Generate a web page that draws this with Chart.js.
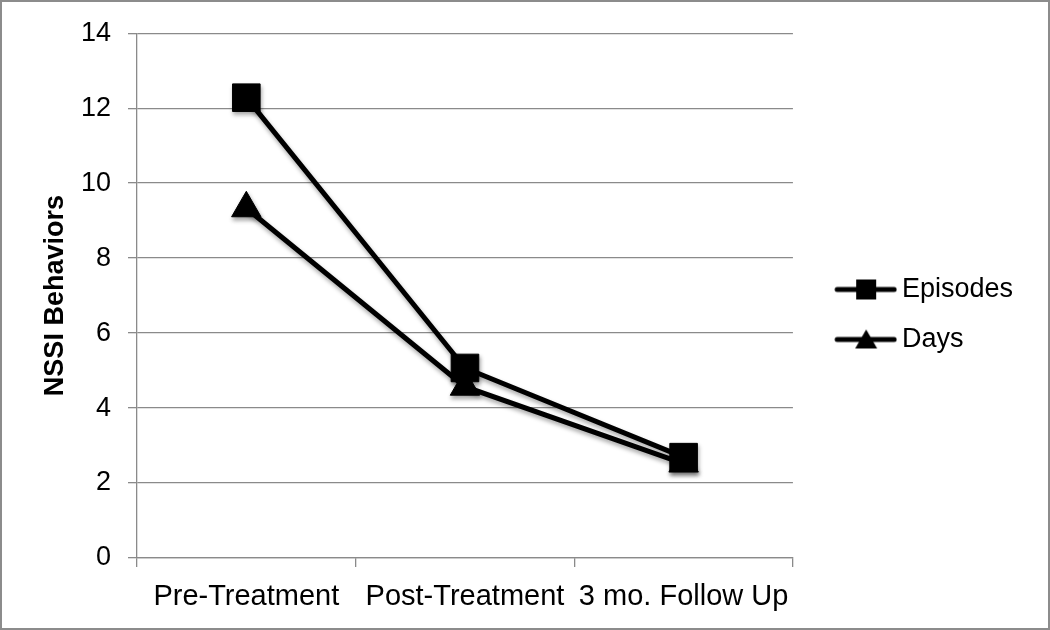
<!DOCTYPE html>
<html>
<head>
<meta charset="utf-8">
<script src="https://cdn.jsdelivr.net/npm/chart.js@4/dist/chart.umd.min.js"></script>
<style>
html,body{margin:0;padding:0;background:#fff;}
#wrap{width:1050px;height:630px;position:relative;}
</style>
</head>
<body>
<div id="wrap"><canvas id="c" width="1050" height="630"></canvas></div>
<script>
const categories = ['Pre-Treatment', 'Post-Treatment', '3 mo. Follow Up'];
const episodes = [12.28, 5.07, 2.69];
const days = [9.33, 4.57, 2.52];
const seriesNames = ['Episodes', 'Days'];
const yTicks = [0, 2, 4, 6, 8, 10, 12, 14];

const FONT = '"Liberation Sans", Arial, sans-serif';
const GRID = '#8a8a8a';

function legendIcon(kind) {
  const c = document.createElement('canvas');
  c.width = 90; c.height = 24;
  const g = c.getContext('2d');
  g.strokeStyle = '#000'; g.lineWidth = 5; g.lineCap = 'round';
  g.beginPath(); g.moveTo(30, 12); g.lineTo(87, 12); g.stroke();
  g.fillStyle = '#000';
  if (kind === 'rect') {
    g.fillRect(49, 2, 20, 20);
  } else {
    g.beginPath(); g.moveTo(59, 2); g.lineTo(70, 21); g.lineTo(48, 21); g.closePath(); g.fill();
  }
  return c;
}
const icons = { rect: legendIcon('rect'), triangle: legendIcon('triangle') };

const framePlugin = {
  id: 'frame',
  beforeDraw(chart) {
    const ctx = chart.ctx;
    ctx.save();
    ctx.fillStyle = '#fff';
    ctx.fillRect(0, 0, chart.width, chart.height);
    ctx.restore();
  },
  beforeDatasetsDraw(chart) {
    const ctx = chart.ctx;
    ctx.save();
    ctx.shadowColor = 'rgba(0,0,0,0.35)';
    ctx.shadowBlur = 4;
    ctx.shadowOffsetX = 1;
    ctx.shadowOffsetY = 3;
  },
  afterDatasetsDraw(chart) {
    chart.ctx.restore();
  },
  afterDraw(chart) {
    const ctx = chart.ctx;
    ctx.save();
    ctx.strokeStyle = '#8c8c8c';
    ctx.lineWidth = 2;
    ctx.strokeRect(1, 1, chart.width - 2, chart.height - 2);
    ctx.restore();
  }
};

new Chart(document.getElementById('c'), {
  type: 'line',
  data: {
    labels: categories,
    datasets: [
      {
        label: seriesNames[0],
        data: episodes,
        borderColor: '#000',
        backgroundColor: '#000',
        borderWidth: 5,
        pointStyle: 'rect',
        pointRadius: 19.5,
        pointBorderWidth: 1,
        pointBackgroundColor: '#000',
        pointBorderColor: '#000',
        tension: 0
      },
      {
        label: seriesNames[1],
        data: days,
        borderColor: '#000',
        backgroundColor: '#000',
        borderWidth: 5,
        pointStyle: 'triangle',
        pointRadius: 17,
        pointBorderWidth: 1,
        pointBackgroundColor: '#000',
        pointBorderColor: '#000',
        tension: 0
      }
    ]
  },
  options: {
    responsive: false,
    animation: false,
    devicePixelRatio: 1,
    layout: { padding: { top: 33, bottom: 3, left: 0, right: 27 } },
    plugins: {
      tooltip: { enabled: false },
      legend: {
        position: 'right',
        align: 'start',
        title: {
          display: true,
          text: ' ',
          font: { family: FONT, size: 10 },
          padding: { top: 208, bottom: 0 }
        },
        labels: {
          font: { family: FONT, size: 27 },
          color: '#000',
          padding: 23,
          usePointStyle: true,
          pointStyleWidth: 72.5,
          generateLabels(chart) {
            const items = Chart.defaults.plugins.legend.labels.generateLabels(chart);
            items.forEach((it, i) => {
              it.pointStyle = i === 0 ? icons.rect : icons.triangle;
            });
            return items;
          }
        }
      }
    },
    scales: {
      x: {
        offset: true,
        grid: {
          offset: true,
          drawOnChartArea: false,
          drawTicks: true,
          tickLength: 9,
          color: GRID,
          lineWidth: 1.3
        },
        border: { color: GRID, width: 1.3 },
        ticks: {
          font: { family: FONT, size: 29 },
          color: '#000',
          padding: 12.6,
          maxRotation: 0,
          autoSkip: false
        }
      },
      y: {
        min: 0,
        max: 14,
        afterBuildTicks(scale) {
          scale.ticks = yTicks.map(v => ({ value: v }));
        },
        afterFit(scale) { scale.width = 137; },
        grid: {
          color: GRID,
          lineWidth: 1.3,
          drawTicks: true,
          tickLength: 9
        },
        border: { color: GRID, width: 1.3 },
        ticks: {
          font: { family: FONT, size: 27 },
          color: '#000',
          padding: 17
        },
        title: {
          display: true,
          text: 'NSSI Behaviors',
          font: { family: FONT, size: 27, weight: 'bold' },
          color: '#000',
          padding: { top: 39, bottom: 0 }
        }
      }
    }
  },
  plugins: [framePlugin]
});
</script>
</body>
</html>
